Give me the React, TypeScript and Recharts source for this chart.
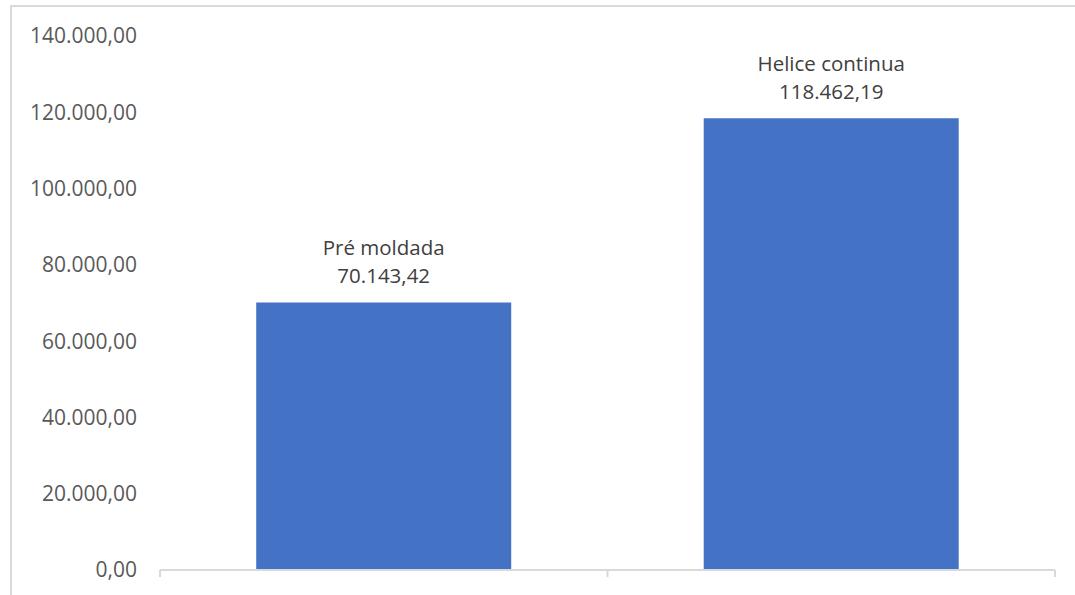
import React from 'react'
import { BarChart, Bar, XAxis, YAxis, LabelList } from 'recharts'

const categories = ['Pré moldada', 'Helice continua']
const costs = [70143.42, 118462.19]
const yTicks = [0, 20000, 40000, 60000, 80000, 100000, 120000, 140000]
const boundaryTicks = [0, 1, 2]

// bars sit in the middle of each category slot so the axis ticks can mark the slot edges
const data = categories.map((name, i) => ({ name, pos: i + 0.5, value: costs[i] }))

// 1234567.8 -> "1.234.567,80"
function fmt(v: number) {
  const [int, dec] = v.toFixed(2).split('.')
  return int.replace(/\B(?=(\d{3})+(?!\d))/g, '.') + ',' + dec
}

const FONT = '"Open Sans", sans-serif'

function BarLabel(props: any) {
  const { x, y, width, index } = props
  const cx = x + width / 2
  return (
    <text x={cx} textAnchor="middle" fill="#404040" fontSize={20.5} fontFamily={FONT}>
      <tspan x={cx} y={y - 47}>{categories[index]}</tspan>
      <tspan x={cx} y={y - 19}>{fmt(costs[index])}</tspan>
    </text>
  )
}

export default function App() {
  return (
    <div style={{ position: 'absolute', left: 0, top: 0, width: 1075, height: 595, overflow: 'hidden', background: '#fff' }}>
      <div style={{ position: 'absolute', left: 10, top: 5, width: 1100, height: 620, border: '2px solid #d9d9d9', boxSizing: 'border-box' }} />
      <BarChart
        width={1075}
        height={595}
        data={data}
        margin={{ top: 36, right: 20, bottom: 0, left: 0 }}
        barCategoryGap="21.5%"
        style={{ position: 'absolute', left: 0, top: 0 }}
      >
        <XAxis
          dataKey="pos"
          type="number"
          domain={[0, 2]}
          ticks={boundaryTicks}
          height={25}
          axisLine={{ stroke: '#d9d9d9', strokeWidth: 2 }}
          tickLine={{ stroke: '#d9d9d9', strokeWidth: 2 }}
          tickSize={7}
          tickFormatter={() => ''}
        />
        <YAxis
          domain={[0, 140000]}
          ticks={yTicks}
          width={160}
          axisLine={false}
          tickLine={false}
          tickSize={0}
          tickMargin={23}
          tickFormatter={fmt}
          tick={{ fill: '#595959', fontSize: 21, fontFamily: FONT }}
        />
        <Bar dataKey="value" fill="#4472C4" isAnimationActive={false}>
          <LabelList dataKey="value" content={BarLabel} />
        </Bar>
      </BarChart>
    </div>
  )
}
